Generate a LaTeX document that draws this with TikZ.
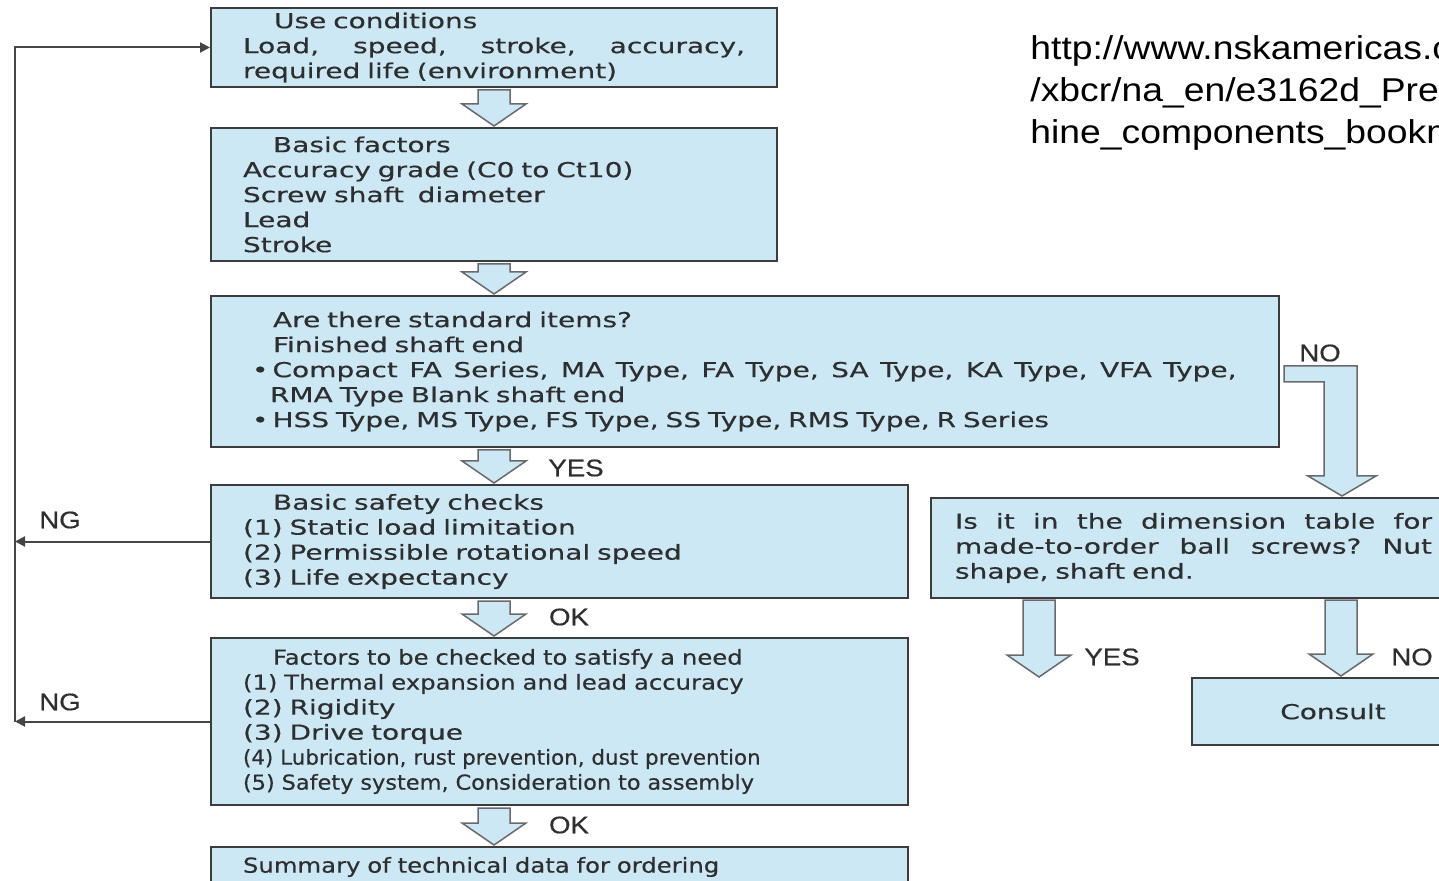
\documentclass[tikz,border=0pt]{standalone}
\usepackage{fontspec}
\usepackage{tikz}
\usepackage{xcolor}
\usetikzlibrary{arrows.meta, calc}
\newfontfamily\boxfont{DejaVu Sans}[FakeStretch=1.36, FakeBold=0.4]
\newfontfamily\tightfont{DejaVu Sans}[FakeStretch=1.18, FakeBold=0.4]
\newfontfamily\narrowfont{DejaVu Sans}[FakeStretch=1.04, FakeBold=0.4]
\newfontfamily\safetyfont{DejaVu Sans}[FakeStretch=1.09, FakeBold=0.4]
\newfontfamily\labelfont{Liberation Sans}[FakeStretch=1.15, FakeBold=0.5]
\newfontfamily\urlfont{Liberation Sans}[FakeStretch=1.13]
\definecolor{BoxFill}{HTML}{CCE8F4}
\definecolor{BoxEdge}{HTML}{3C3C3C}
\definecolor{ArrowEdge}{HTML}{6A6A6A}
\definecolor{TextGrey}{HTML}{2E2E2E}
\definecolor{LineGrey}{HTML}{454545}
\tikzset{
    % Boxes with sharp corners
    flow box/.style={
        rectangle,
        draw=BoxEdge,
        fill=BoxFill,
        line width=1pt,
        inner xsep=16pt,
        inner ysep=0pt,
        align=left,
        text=TextGrey,
        font=\boxfont\fontsize{10.3}{12.5}\selectfont
    },
    flow box narrow/.style={
        flow box,
        minimum width=283pt,
        text width=251pt
    },
    flow box wide/.style={
        flow box,
        minimum width=348.5pt,
        text width=316.5pt
    },
    % Answer labels next to the arrows
    answer/.style={
        text=TextGrey,
        inner sep=0pt,
        font=\labelfont\fontsize{12}{14}\selectfont
    },
    hollow arrow/.style={
        draw=ArrowEdge,
        fill=BoxFill,
        line width=0.75pt,
        line join=miter
    },
    link style/.style={
        draw=LineGrey,
        line width=1pt
    },
    link arrow/.style={
        link style,
        -{Triangle[length=5pt,width=5pt]}
    }
}
% block arrow pointing down: #1 top centre, #2 tip
\newcommand{\blockdown}[2]{%
    \path[hollow arrow] let \p1=(#1), \p2=(#2) in
        (\x1-8pt,\y1) -- (\x1+8pt,\y1) -- (\x1+8pt,\y2+11pt) -- (\x1+16pt,\y2+11pt)
        -- (\x2,\y2) -- (\x1-16pt,\y2+11pt) -- (\x1-8pt,\y2+11pt) -- cycle;}

\begin{document}
\begin{tikzpicture}[x=0.5pt, y=-0.5pt]
        \path[use as bounding box, fill=white] (0,0) rectangle (1439,881);
        \clip (0,0) rectangle (1439,881);

        % Use conditions
        \node[flow box narrow, minimum height=39.5pt] (use) at (494,47.5) {
            \hspace*{15.5pt}Use conditions\\
            \makebox[251pt][s]{Load,\hfill speed,\hfill stroke,\hfill accuracy,}\\
            required life (environment)
        };

        % Basic factors
        \node[flow box narrow, minimum height=66.5pt] (basic) at (494,194.5) {
            \hspace*{15pt}Basic factors\\
            Accuracy grade (C0 to Ct10)\\
            Screw shaft\ \ diameter\\
            Lead\\
            Stroke
        };

        % Standard items
        \node[flow box, minimum width=534pt, text width=493pt, inner xsep=20.5pt,
              minimum height=75.5pt] (std) at (745,371.5) {
            \hspace*{10.5pt}Are there standard items?\\
            \hspace*{10.5pt}Finished shaft end\\
            •\hspace{2pt}\makebox[482pt][s]{\spaceskip=0.35em plus 1em Compact FA Series, MA Type, FA Type, SA Type, KA Type, VFA Type,}\\
            \hspace*{9pt}RMA Type Blank shaft end\\
            •\hspace{2pt}HSS Type, MS Type, FS Type, SS Type, RMS Type, R Series
        };

        % Safety checks
        \node[flow box wide, minimum height=56.5pt] (safety) at (559.5,541.5) {
            \hspace*{15pt}Basic safety checks\\
            (1) Static load limitation\\
            (2) Permissible rotational speed\\
            (3) Life expectancy
        };

        % Factors for a need
        \node[flow box wide, minimum height=83.5pt] (factors) at (559.5,721.5) {
            \hspace*{15pt}{\tightfont Factors to be checked to satisfy a need}\\
            {\tightfont (1) Thermal expansion and lead accuracy}\\
            (2) Rigidity\\
            (3) Drive torque\\
            {\narrowfont (4) Lubrication, rust prevention, dust prevention}\\
            {\safetyfont (5) Safety system, Consideration to assembly}
        };

        % Summary for ordering
        \node[flow box wide, minimum height=20pt] (summary) at (559.5,867) {
            {\tightfont Summary of technical data for ordering}
        };

        % Made-to-order table
        \node[flow box, minimum width=269.5pt, text width=245.5pt, inner xsep=12pt,
              minimum height=50pt] (dim) at (1200.5,548) {
            \makebox[238.5pt][s]{Is\hfill it\hfill in\hfill the\hfill dimension\hfill table\hfill for}\\
            \makebox[238.5pt][s]{made-to-order\hfill ball\hfill screws?\hfill Nut}\\
            shape, shaft end.
        };

        % Consult
        \node[flow box, align=center, minimum width=141pt, minimum height=33.5pt] (consult) at (1333,711.5) {Consult};

        % Source
        \node[anchor=north west, inner sep=0pt, align=left, text=black,
              font=\urlfont\fontsize{16.5}{21}\selectfont] (source) at (1030,35) {
            http://www.nskamericas.com/cps/rde\\
            /xbcr/na\_en/e3162d\_Precision\_mac\\
            hine\_components\_bookmark.pdf
        };

        % Answers
        \node[answer] (yes1) at (576,468) {YES};
        \node[answer] (ok1) at (569,617) {OK};
        \node[answer] (ok2) at (569,825) {OK};
        \node[answer] (no1) at (1320,353) {NO};
        \node[answer] (yes2) at (1112,657) {YES};
        \node[answer] (no2) at (1412,657) {NO};
        \node[answer] (ng1) at (60,520) {NG};
        \node[answer] (ng2) at (60,702) {NG};

        \coordinate (rail) at (15,47.5);
        \coordinate (dimyes) at (1039,677);

        % Block arrows
        \blockdown{$(use.south)+(0,2)$}{$(basic.north)+(0,-1)$}
        \blockdown{$(basic.south)+(0,2)$}{$(basic.south |- std.north)+(0,-1)$}
        \blockdown{$(basic.south |- std.south)+(0,2)$}{$(basic.south |- safety.north)+(0,-1)$}
        \blockdown{$(basic.south |- safety.south)+(0,2)$}{$(basic.south |- factors.north)+(0,-1)$}
        \blockdown{$(basic.south |- factors.south)+(0,2)$}{$(basic.south |- summary.north)+(0,-1)$}
        \blockdown{$(dimyes |- dim.south)+(0,1)$}{dimyes}
        \blockdown{$(consult.north |- dim.south)+(8,1)$}{$(consult.north)+(8,-1)$}
        \path[hollow arrow] ($(std.east)+(4,-5.5)$) -- ++(73,0) -- ++(0,110) -- ++(19,0)
            -- ++(-34,20) -- ++(-34,-20) -- ++(16,0) -- ++(0,-94) -- ++(-40,0) -- cycle;

        % NG feedback
        \draw[link arrow] (safety.west) -- (safety.west -| rail);
        \draw[link arrow] (factors.west) -- (factors.west -| rail);
        \draw[link arrow] (factors.west -| rail) -- (rail) -- (use.west);
    \end{tikzpicture}
\end{document}
